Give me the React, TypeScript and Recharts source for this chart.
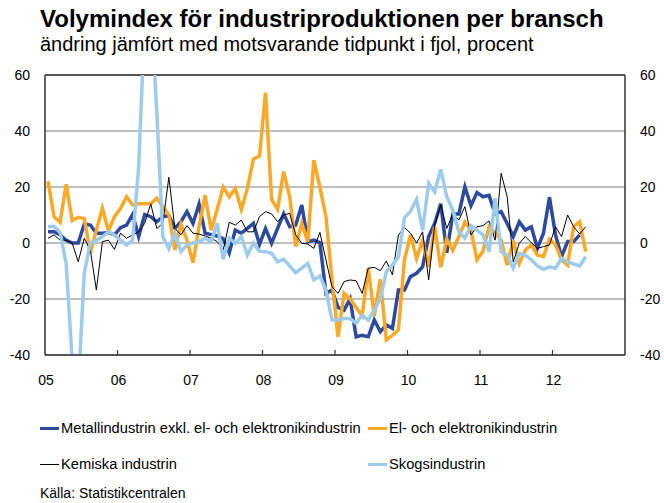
import React from 'react';
import { LineChart, Line, XAxis, YAxis, CartesianGrid, ReferenceLine } from 'recharts';

const FONT = '"Liberation Sans", Arial, Helvetica, sans-serif';

const yearLabels = ['05', '06', '07', '08', '09', '10', '11', '12'];
const yearLabelPos = [0, 12, 24, 36, 48, 60, 72, 84];
const yearBounds = [11.5, 23.5, 35.5, 47.5, 59.5, 71.5, 83.5];
const yTicks = [-40, -20, 0, 20, 40, 60];

const seriesNames = [
  'Metallindustrin exkl. el- och elektronikindustrin',
  'El- och elektronikindustrin',
  'Kemiska industrin',
  'Skogsindustrin',
];
const seriesColors = ['#2D4A9E', '#FBA826', '#000000', '#9DCBEC'];

// Monthly values Jan 2005 - Jun 2012
const metall: (number | null)[] = [
  4, 4, 2.9, 1, 0, 0, 6.8, 6.4, 3.5, 3.5, 3.7, 2.9,
  5.5, 6.4, 10.2, 2.3, 10.2, 9.4, 7.6, 9.4, 9.8, 5.2, 7.6, 11.2,
  7, 13.9, 3.5, 3, 2.5, 1.5, -3.5, 4.6, 3.5, 5.2, 7, -0.5,
  5.2, -0.1, 5.2, 10.4, 5.8, 6.4, 13.6, 0.5, 1, 0.1, -18, -16.8,
  -23, -24, -20, -33.5, -33, -33.5, -27.5, -31.7, -29.3, -30.5, -16.8, -16.8,
  -12, -10.8, -8.5, 2.3, 7, 14, -3.5, 10.4, 10.4, 20, 13.3, 18,
  16.5, 17, 10.4, 11.2, 7, 2.3, 7.6, 4.6, 5.8, -1.9, 3.5, 16.3,
  2.9, -4.9, 0.5, 0.5, 2.9, null,
];
const el: number[] = [
  22, 9.4, 7.4, 21, 8, 9.2, 8.7, -3.5, 4.6, 12.4, 4.3, 9.4,
  12.4, 16.5, 13.6, 14, 14, 14, 16, 13, 10, -2.5, 6.7, 1,
  -7, 6, 17, 4.6, 12, 20, 16.5, 19.5, 12, 19.5, 30, 31,
  53.7, 15.6, 12, 25.5, 16.5, -1.3, 7, 0.5, 29.6, 20, 9.4, -13,
  -33.5, -18, -20, -23, -26, -9, -26, -13, -34.6, -33, -31, -6,
  2.9, -5.5, 1, -8.5, 5.8, -8.7, 1.4, -2.7, 2.3, 7.4, 4.6, -6,
  -2.9, 5.8, 3.5, 1, -7.9, 0.8, -7.3, -2.5, -0.7, -4.3, -4.9, 1.4,
  -0.7, -6, -7.9, 5.8, 7.6, -3.1,
];
const kemi: number[] = [
  1.7, 2.9, 1, 1, 0, -6.7, 1.7, -2.5, -16.8, 0.5, 1, -2.3,
  3.5, 1.7, 2.9, 4, 7, 14, 5.2, 7, 23.5, 5.2, 2.9, 6.2,
  3.5, 3.2, 2.5, 1.7, 0.5, -2.5, 7.4, 6.4, 8.2, 4, 4, 9.4,
  11.2, 10.4, 7.6, 10, 10.6, 2.9, -0.1, -0.4, -1.9, 3.8, -6, -15.6,
  -18, -13.8, -13.2, -13.5, -18, -9, -8.7, -9.9, -6.4, -11.4, 2.9, 5.5,
  3.5, 0, 4, -13.2, 6.4, 13.6, 5.2, 10.4, 8.2, 13, 2.9, 5.8,
  6.2, 7.9, 1, 24.9, 16.5, -6.7, -0.1, 2.3, 0.1, -1.9, -1.3, -0.7,
  5.8, 2.3, 10, 5.8, 3.2, 5.8,
];
const skog: number[] = [
  5.8, 6, 3.7, -7.3, -42, -52, -10.8, 0, 1, 2.3, 4, 2.9,
  1, -0.7, 1, 27, 80, 85, 47, 2.3, -2, 3.5, -3, -0.7,
  0, 0.5, 1.7, 0.5, 7, -5.8, 1.7, -0.1, 2.3, -4.3, -0.1, -2.9,
  -3.1, -3.7, -6.7, -5.8, -8.2, -10.6, -9, -7.3, -13.2, -11.8, -16.8, -27.5,
  -27.5, -27, -27, -28.7, -25.7, -27.5, -24, -20, -10.2, -7.9, -4.9, 9,
  11.3, 15.6, 4.6, 21.3, 18.3, 26.3, 16.5, 11.8, 4, 1.7, 6.2, 4.6,
  2.9, -3.1, 16, -3.1, -4.3, -9, -3.7, -4.3, -6, -8.2, -9.4, -8.5,
  -9, -5.5, -6.7, -7.5, -8.2, -4.9,
];

const data = el.map((_, i) => ({
  i,
  metall: metall[i],
  el: el[i],
  kemi: kemi[i],
  skog: skog[i],
}));

const XTick = (props: any) => {
  const { x, y, payload } = props;
  const idx = yearLabelPos.indexOf(payload.value);
  return (
    <text x={x - 2} y={y} textAnchor="middle" fontSize={14} fontFamily={FONT} fill="#000" dy="0.71em">
      {idx >= 0 ? yearLabels[idx] : ''}
    </text>
  );
};

const LegendItem = ({ left, top, color, width, label }: any) => (
  <div style={{ position: 'absolute', left, top, height: 16, display: 'flex', alignItems: 'center' }}>
    <div style={{ width: 19, height: width, background: color, marginRight: 2 }} />
    <span style={{ fontSize: 14.7, fontFamily: FONT, color: '#000', whiteSpace: 'nowrap', lineHeight: '16px' }}>{label}</span>
  </div>
);

export default function App() {
  return (
    <div style={{ position: 'absolute', left: 0, top: 0, width: 664, height: 503, background: '#fff', fontFamily: FONT }}>
      <div style={{ position: 'absolute', left: 40, top: 7, fontSize: 24, fontWeight: 'bold', lineHeight: '24px', whiteSpace: 'nowrap' }}>
        Volymindex för industriproduktionen per bransch
      </div>
      <div style={{ position: 'absolute', left: 40, top: 34, fontSize: 20, lineHeight: '20px', whiteSpace: 'nowrap' }}>
        ändring jämfört med motsvarande tidpunkt i fjol, procent
      </div>
      <div style={{ position: 'absolute', left: 0, top: 0 }}>
        <LineChart width={664} height={503} data={data} margin={{ top: 75, right: 0, bottom: 0, left: 0 }}>
          <CartesianGrid yAxisId="left" vertical={false} stroke="#808080" strokeWidth={1.2} />
          <XAxis
            dataKey="i"
            type="number"
            domain={[-0.5, 95.5]}
            ticks={yearLabelPos}
            interval={0}
            height={148}
            tickLine={false}
            tickSize={0}
            tickMargin={20}
            axisLine={{ stroke: '#333', strokeWidth: 1.5 }}
            tick={<XTick />}
          />
          <YAxis
            yAxisId="left"
            orientation="left"
            domain={[-40, 60]}
            ticks={yTicks}
            allowDataOverflow
            width={45}
            tickLine={false}
            tickSize={0}
            tickMargin={15}
            axisLine={{ stroke: '#333', strokeWidth: 1.5 }}
            tick={{ fontSize: 14, fill: '#000', fontFamily: FONT }}
          />
          <YAxis
            yAxisId="right"
            orientation="right"
            domain={[-40, 60]}
            ticks={yTicks}
            allowDataOverflow
            width={39}
            tickLine={false}
            tickSize={0}
            tickMargin={15}
            axisLine={{ stroke: '#333', strokeWidth: 1.5 }}
            tick={{ fontSize: 14, fill: '#000', fontFamily: FONT }}
          />
          <ReferenceLine yAxisId="left" y={60} stroke="#333" strokeWidth={1.5} />
          {yearBounds.map((b) => (
            <ReferenceLine
              key={b}
              yAxisId="left"
              segment={[{ x: b, y: -40 }, { x: b, y: -38.2 }]}
              stroke="#333"
              strokeWidth={1.2}
            />
          ))}
          <Line yAxisId="left" dataKey="metall" stroke={seriesColors[0]} strokeWidth={3.5} dot={false} isAnimationActive={false} type="linear" />
          <Line yAxisId="left" dataKey="el" stroke={seriesColors[1]} strokeWidth={3.5} dot={false} isAnimationActive={false} type="linear" />
          <Line yAxisId="left" dataKey="kemi" stroke={seriesColors[2]} strokeWidth={1} dot={false} isAnimationActive={false} type="linear" />
          <Line yAxisId="left" dataKey="skog" stroke={seriesColors[3]} strokeWidth={3.5} dot={false} isAnimationActive={false} type="linear" />
        </LineChart>
      </div>
      <LegendItem left={40} top={420} color={seriesColors[0]} width={3} label={seriesNames[0]} />
      <LegendItem left={368} top={420} color={seriesColors[1]} width={3} label={seriesNames[1]} />
      <LegendItem left={40} top={456} color={seriesColors[2]} width={1} label={seriesNames[2]} />
      <LegendItem left={368} top={456} color={seriesColors[3]} width={3} label={seriesNames[3]} />
      <div style={{ position: 'absolute', left: 40, top: 486, fontSize: 14, lineHeight: '14px', whiteSpace: 'nowrap' }}>
        Källa: Statistikcentralen
      </div>
    </div>
  );
}
